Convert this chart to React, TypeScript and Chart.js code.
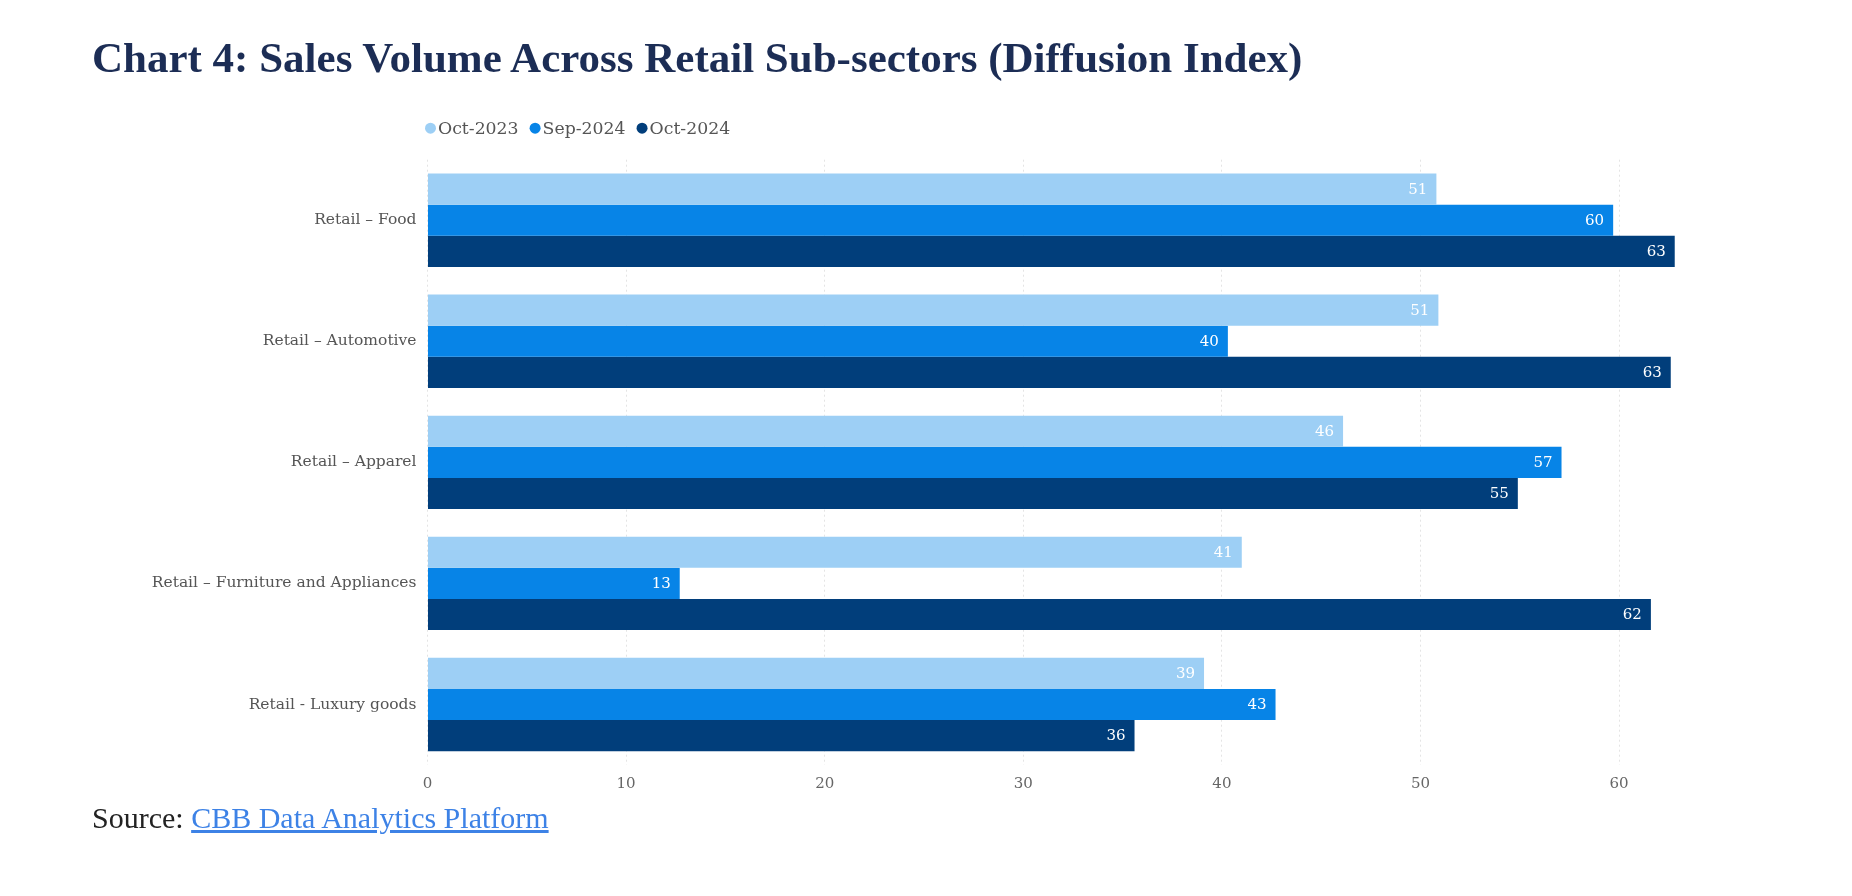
import React, { useEffect, useRef } from "react";
import { Chart, registerables } from "chart.js";

Chart.register(...registerables);

const categories = [
  "Retail – Food",
  "Retail – Automotive",
  "Retail – Apparel",
  "Retail – Furniture and Appliances",
  "Retail - Luxury goods",
];

const seriesLabels = ["Oct-2023", "Sep-2024", "Oct-2024"];
const oct2023 = [50.8, 50.9, 46.1, 41.0, 39.1];
const sep2024 = [59.7, 40.3, 57.1, 12.7, 42.7];
const oct2024 = [62.8, 62.6, 54.9, 61.6, 35.6];
const seriesColors = ["#9dcff5", "#0784e7", "#013e7b"];
const xTicks = [0, 10, 20, 30, 40, 50, 60];

const FONT = "'DejaVu Serif', serif";

const valueLabels = {
  id: "valueLabels",
  afterDatasetsDraw(chart: any) {
    const ctx = chart.ctx;
    ctx.save();
    ctx.font = `15px ${FONT}`;
    ctx.fillStyle = "#ffffff";
    ctx.textAlign = "right";
    ctx.textBaseline = "middle";
    chart.data.datasets.forEach((ds: any, i: number) => {
      const meta = chart.getDatasetMeta(i);
      meta.data.forEach((bar: any, j: number) => {
        const v = ds.data[j] as number;
        ctx.fillText(String(Math.round(v)), bar.x - 9, bar.y + 1);
      });
    });
    ctx.restore();
  },
};

const topLegend = {
  id: "topLegend",
  afterDraw(chart: any) {
    const ctx = chart.ctx;
    const area = chart.chartArea;
    let x = area.left - 2.5;
    const y = area.top - 31.5;
    ctx.save();
    ctx.font = `17.3px ${FONT}`;
    ctx.textBaseline = "middle";
    ctx.textAlign = "left";
    chart.data.datasets.forEach((ds: any) => {
      ctx.fillStyle = ds.backgroundColor;
      ctx.beginPath();
      ctx.arc(x + 5.5, y, 5.5, 0, Math.PI * 2);
      ctx.fill();
      ctx.fillStyle = "#555555";
      ctx.fillText(ds.label, x + 13, y + 1);
      x += 13 + ctx.measureText(ds.label).width + 11;
    });
    ctx.restore();
  },
};

export default function App() {
  const canvasRef = useRef<HTMLCanvasElement | null>(null);

  useEffect(() => {
    if (!canvasRef.current) return;
    const values = [oct2023, sep2024, oct2024];
    const chart = new Chart(canvasRef.current, {
      type: "bar",
      data: {
        labels: categories,
        datasets: seriesLabels.map((label, i) => ({
          label,
          data: values[i],
          backgroundColor: seriesColors[i],
          borderWidth: 0,
          categoryPercentage: 0.771,
          barPercentage: 1.0,
        })),
      },
      options: {
        indexAxis: "y",
        responsive: false,
        animation: false,
        devicePixelRatio: 1,
        layout: {
          padding: { top: 159.7, bottom: 101, left: 0, right: 173.3 },
        },
        plugins: {
          legend: { display: false },
          tooltip: { enabled: false },
          title: { display: false },
        },
        scales: {
          x: {
            type: "linear",
            min: 0,
            max: 63,
            afterBuildTicks: (scale: any) => {
              scale.ticks = xTicks.map((v) => ({ value: v }));
            },
            afterFit: (scale: any) => {
              scale.height = 30;
            },
            grid: { color: "#e4e4e4", drawTicks: false, lineWidth: 1 },
            border: { display: false, dash: [2, 3] },
            ticks: {
              color: "#666666",
              font: { family: FONT, size: 15 },
              padding: 10,
            },
          },
          y: {
            afterFit: (scale: any) => {
              scale.width = 427.5;
            },
            grid: { display: false, drawTicks: false },
            border: { display: false },
            ticks: {
              color: "#555555",
              font: { family: FONT, size: 15.5 },
              padding: 11,
            },
          },
        },
      },
      plugins: [valueLabels, topLegend],
    });
    return () => chart.destroy();
  }, []);

  return (
    <div
      style={{
        position: "absolute",
        left: 0,
        top: 0,
        width: 1852,
        height: 896,
        overflow: "hidden",
        background: "#ffffff",
      }}
    >
      <canvas
        ref={canvasRef}
        width={1852}
        height={896}
        style={{ position: "absolute", left: 0, top: 0, width: 1852, height: 896 }}
      />
      <div
        style={{
          position: "absolute",
          left: 92,
          top: 36,
          fontFamily: "'Liberation Serif', serif",
          fontWeight: "bold",
          fontSize: 43,
          lineHeight: 1,
          color: "#1c2d55",
          whiteSpace: "nowrap",
        }}
      >
        Chart 4: Sales Volume Across Retail Sub-sectors (Diffusion Index)
      </div>
      <div
        style={{
          position: "absolute",
          left: 92,
          top: 803,
          fontFamily: "'Liberation Serif', serif",
          fontSize: 30,
          lineHeight: 1,
          color: "#222222",
          whiteSpace: "nowrap",
        }}
      >
        Source:{" "}
        <a href="#" style={{ color: "#3d82e6", textDecoration: "underline" }}>
          CBB Data Analytics Platform
        </a>
      </div>
    </div>
  );
}
